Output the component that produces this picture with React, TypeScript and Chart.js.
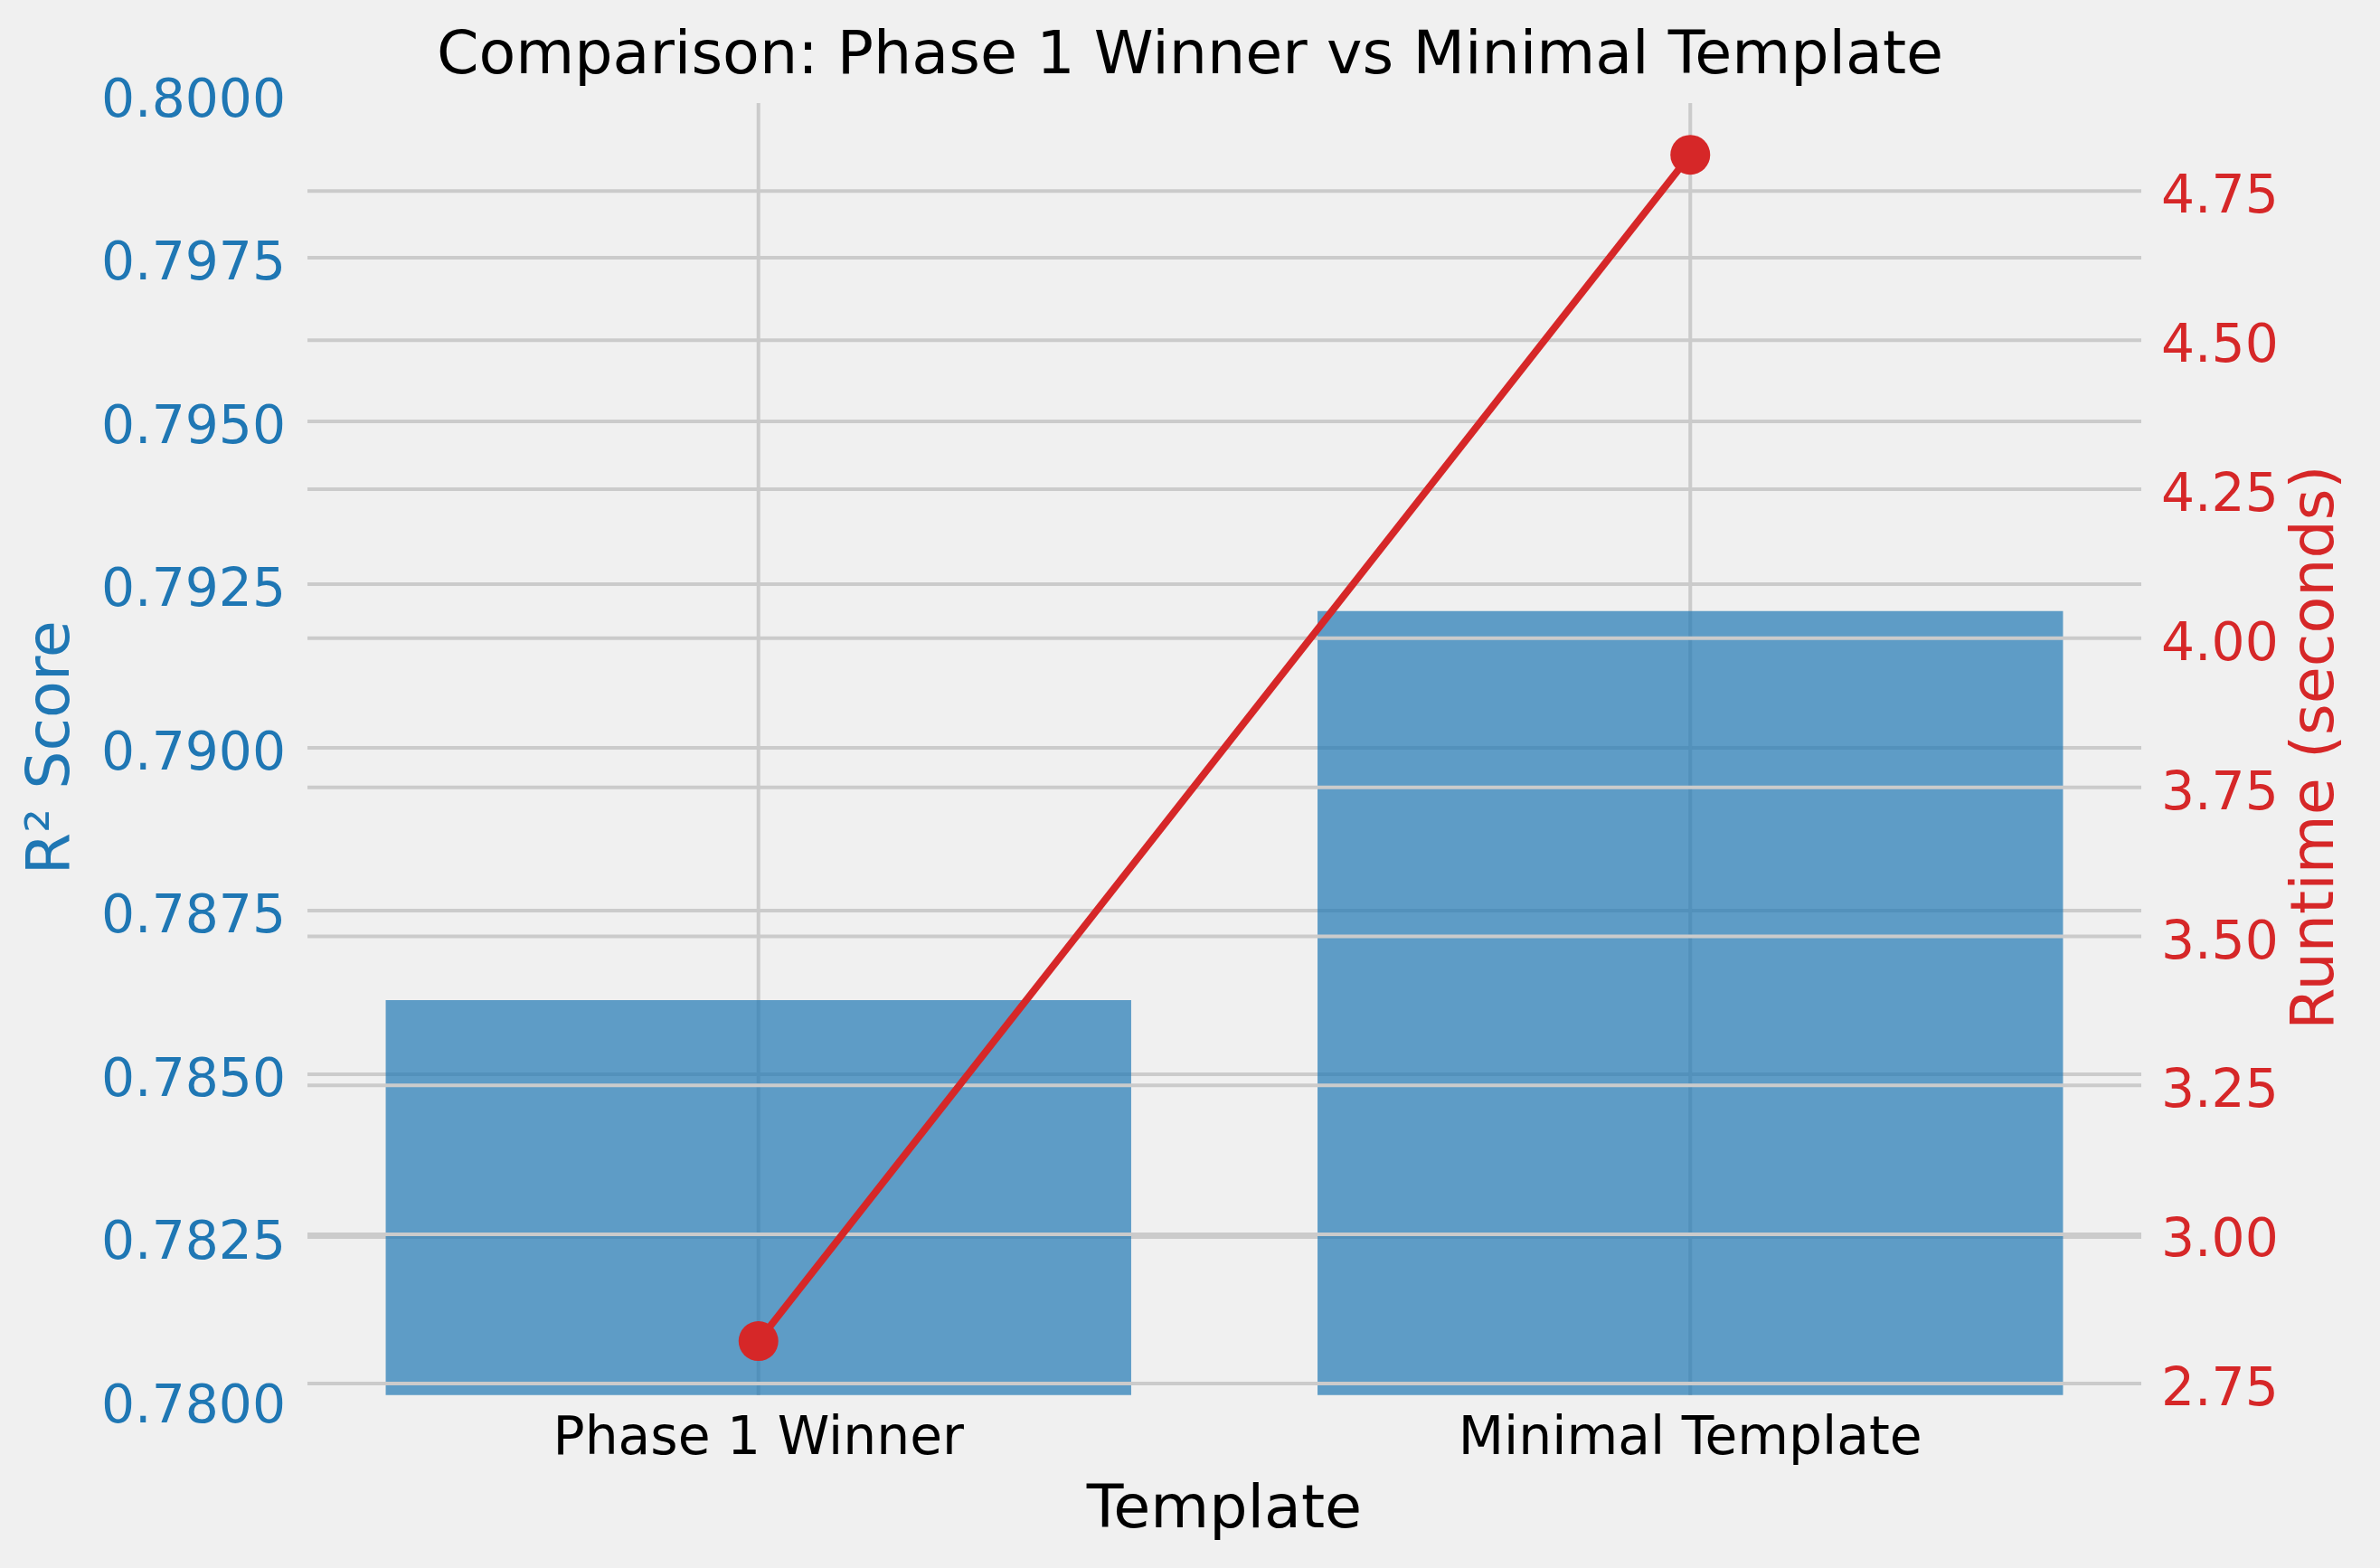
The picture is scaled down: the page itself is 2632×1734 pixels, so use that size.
import { useEffect, useRef } from "react";
import { Chart, registerables } from "chart.js";

Chart.register(...registerables);

const templates = ["Phase 1 Winner", "Minimal Template"];
const r2Scores = [0.78613, 0.79209];
const runtimes = [2.821, 4.811];

const W = 2632;
const H = 1734;
const BLUE = "#1f77b4";
const RED = "#d62728";
const GRID = "#cbcbcb";
const BG = "#f0f0f0";
const RIGHT_TITLE = "Runtime (seconds)";

// paint the figure background
const background = {
  id: "background",
  beforeDraw(chart: Chart) {
    const { ctx } = chart;
    ctx.save();
    ctx.fillStyle = BG;
    ctx.fillRect(0, 0, chart.width, chart.height);
    ctx.restore();
  },
};

// vertical grid, a little shorter than the plot box as in the original
const xGrid = {
  id: "xGrid",
  beforeDatasetsDraw(chart: Chart) {
    const s: any = chart.scales.x;
    const { top, bottom } = chart.chartArea;
    const ctx = chart.ctx;
    ctx.save();
    ctx.strokeStyle = GRID;
    ctx.lineWidth = 4;
    s.ticks.forEach((t: { value: number }) => {
      const x = s.getPixelForValue(t.value);
      ctx.beginPath();
      ctx.moveTo(x, top + 9.5);
      ctx.lineTo(x, bottom - 5.7);
      ctx.stroke();
    });
    ctx.restore();
  },
};

// the twin axis grid sits above the bars but below the line
const twinGrid = {
  id: "twinGrid",
  afterDatasetDraw(chart: Chart, args: { index: number }) {
    if (args.index !== 0) return;
    const s: any = chart.scales.y2;
    const { left, right } = chart.chartArea;
    const ctx = chart.ctx;
    ctx.save();
    ctx.strokeStyle = GRID;
    ctx.lineWidth = 4;
    s.ticks.forEach((t: { value: number }) => {
      const y = s.getPixelForValue(t.value);
      ctx.beginPath();
      ctx.moveTo(left, y);
      ctx.lineTo(right, y);
      ctx.stroke();
    });
    ctx.restore();
  },
};

// right axis title, reading bottom to top like the left one
const rightTitle = {
  id: "rightTitle",
  afterDraw(chart: Chart) {
    const { ctx, chartArea } = chart;
    ctx.save();
    ctx.translate(2563, (chartArea.top + chartArea.bottom) / 2);
    ctx.rotate(-Math.PI / 2);
    ctx.fillStyle = RED;
    ctx.font = "66.7px 'DejaVu Sans', sans-serif";
    ctx.textAlign = "center";
    ctx.textBaseline = "middle";
    ctx.fillText(RIGHT_TITLE, 0, 0);
    ctx.restore();
  },
};

export default function App() {
  const canvasRef = useRef<HTMLCanvasElement | null>(null);

  useEffect(() => {
    document.body.style.margin = "0";
    document.body.style.background = BG;
    if (!canvasRef.current) return;
    Chart.defaults.font.family = "'DejaVu Sans', sans-serif";

    const chart = new Chart(canvasRef.current, {
      type: "bar",
      data: {
        datasets: [
          {
            type: "bar",
            label: "R² Score",
            data: templates.map((_, i) => ({ x: i, y: r2Scores[i] })),
            backgroundColor: "rgba(31,119,180,0.7)",
            borderWidth: 0,
            barPercentage: 0.8,
            categoryPercentage: 1,
            clip: { left: 0, top: 0, right: 0, bottom: -6 },
            yAxisID: "y",
            order: 1,
          },
          {
            type: "line",
            label: "Runtime",
            data: templates.map((_, i) => ({ x: i, y: runtimes[i] })),
            borderColor: RED,
            backgroundColor: RED,
            borderWidth: 8,
            pointRadius: 22,
            pointBackgroundColor: RED,
            pointBorderWidth: 0,
            tension: 0,
            yAxisID: "y2",
            order: 0,
          },
        ] as any,
      },
      options: {
        animation: false,
        responsive: false,
        devicePixelRatio: 1,
        layout: { padding: 0 },
        plugins: {
          legend: { display: false },
          tooltip: { enabled: false },
          title: {
            display: true,
            text: "Comparison: Phase 1 Winner vs Minimal Template",
            color: "#000000",
            font: { size: 66.7, weight: "normal" },
            padding: { top: 24, bottom: 0.5 },
          },
        },
        scales: {
          x: {
            type: "linear",
            offset: false,
            min: -0.484,
            max: 1.484,
            grid: { display: false, drawTicks: false, offset: false },
            border: { display: false },
            ticks: {
              stepSize: 1,
              includeBounds: false,
              color: "#000000",
              font: { size: 58.3 },
              padding: 9,
              callback: (v: any) => templates[Number(v)] ?? "",
            },
            title: {
              display: true,
              text: "Template",
              color: "#000000",
              font: { size: 66.7 },
              padding: { bottom: 22 },
            },
            afterFit: (s: any) => {
              s.height = 185.3;
            },
          },
          y: {
            position: "left",
            min: 0.78,
            max: 0.8,
            grid: {
              color: (c: any) =>
                c.index === 0 || c.index === c.scale.ticks.length - 1 ? "rgba(0,0,0,0)" : GRID,
              lineWidth: 4,
              drawTicks: false,
            },
            border: { display: false },
            ticks: {
              stepSize: 0.0025,
              color: BLUE,
              font: { size: 58.3 },
              padding: 24,
              labelOffset: 9,
              callback: (v: any) => Number(v).toFixed(4),
            },
            title: {
              display: true,
              text: "R² Score",
              color: BLUE,
              font: { size: 66.7 },
              padding: { top: 19 },
            },
            afterFit: (s: any) => {
              s.width = 340;
            },
          },
          y2: {
            position: "right",
            min: 2.7215,
            max: 4.912,
            grid: { display: false, drawTicks: false },
            border: { display: false },
            ticks: {
              stepSize: 0.25,
              includeBounds: false,
              color: RED,
              font: { size: 58.3 },
              padding: 22,
              labelOffset: 9,
              callback: (v: any) => Number(v).toFixed(2),
            },
            title: { display: false },
            afterFit: (s: any) => {
              s.width = W - 2368;
            },
          },
        },
      } as any,
      plugins: [background, xGrid, twinGrid, rightTitle],
    });

    return () => {
      chart.destroy();
    };
  }, []);

  return (
    <div style={{ width: W, height: H, background: BG }}>
      <canvas ref={canvasRef} width={W} height={H} style={{ width: W, height: H, display: "block" }} />
    </div>
  );
}
